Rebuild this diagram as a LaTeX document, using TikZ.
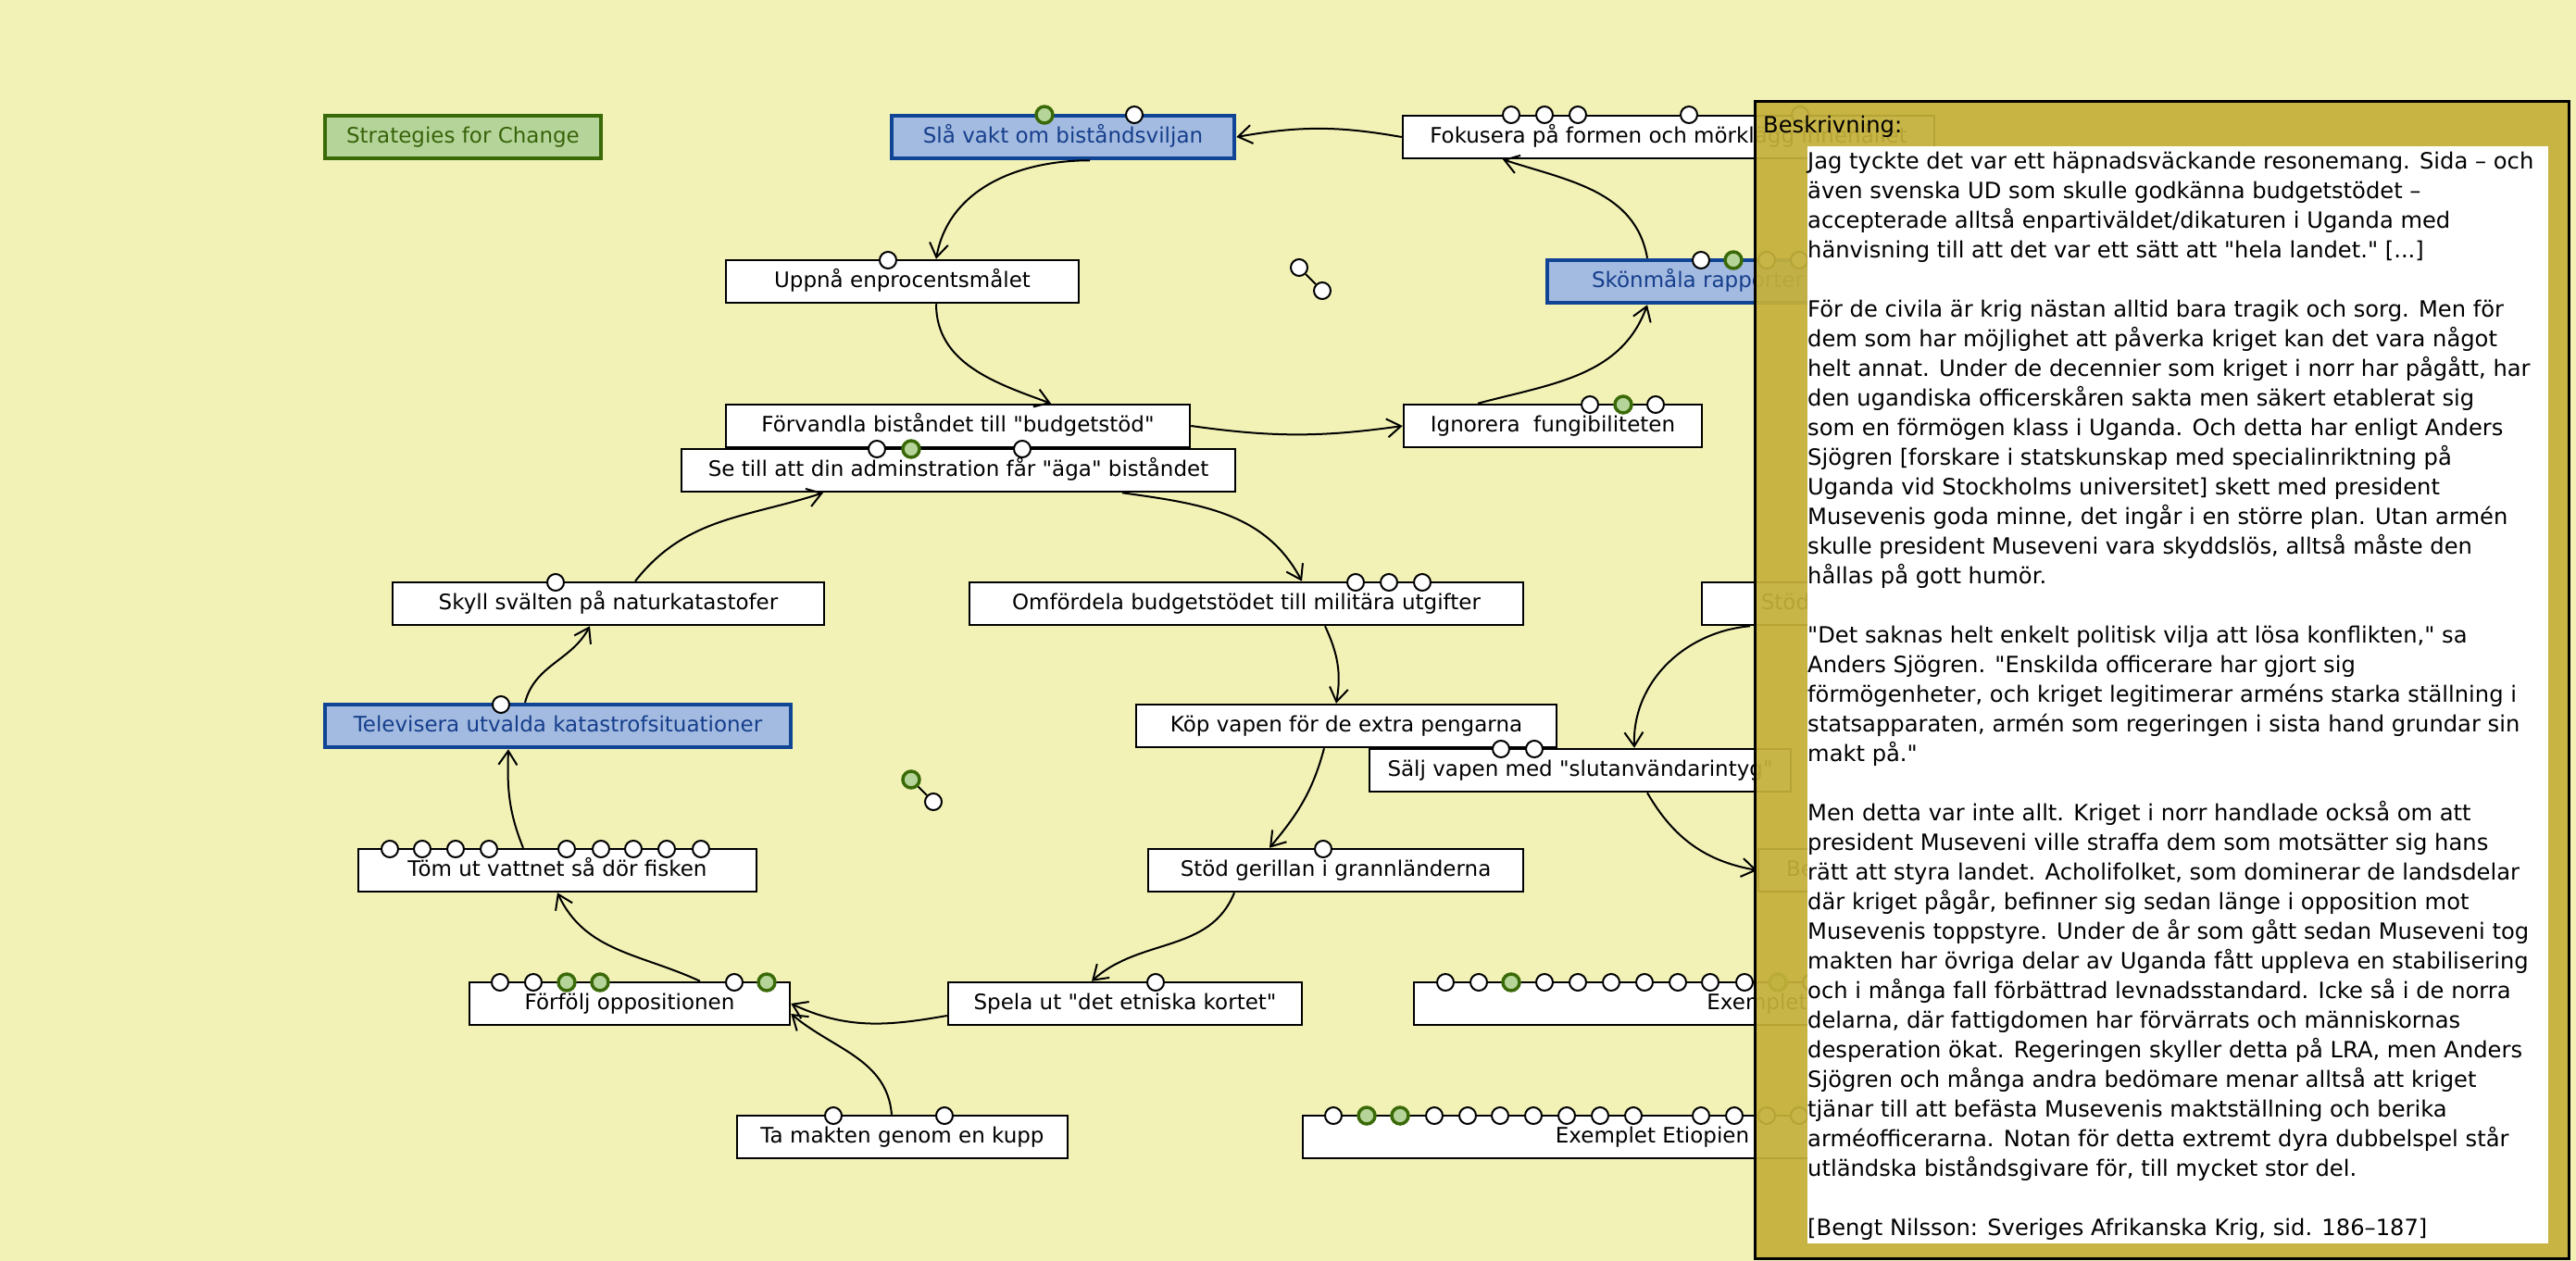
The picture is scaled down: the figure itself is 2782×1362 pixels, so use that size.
\documentclass[tikz,border=0pt]{standalone}
\usepackage{fontspec}
\setmainfont{DejaVu Sans}[Ligatures=TeXOff]
\usepackage{xcolor}
\usepackage{tikz}
\usetikzlibrary{arrows.meta}
\definecolor{cBg}{RGB}{242,242,183}
\definecolor{cPanel}{RGB}{196,176,58}
\definecolor{cBlueFill}{RGB}{163,187,224}
\definecolor{cBlueLine}{RGB}{16,68,148}
\definecolor{cBlueText}{RGB}{22,62,140}
\definecolor{cGreenFill}{RGB}{181,212,153}
\definecolor{cGreenLine}{RGB}{58,106,8}
\definecolor{cGreenText}{RGB}{55,100,10}

\begin{document}
\begin{tikzpicture}[x=1pt,y=-1pt,
  box/.style={draw=black,line width=2.5pt,fill=white,inner sep=0pt,minimum height=46pt,
    text height=17pt,text depth=5pt,font=\fontsize{23}{28}\selectfont},
  bluebox/.style={box,draw=cBlueLine,line width=4.5pt,fill=cBlueFill,text=cBlueText},
  greenbox/.style={box,draw=cGreenLine,line width=4.5pt,fill=cGreenFill,text=cGreenText},
  dot/.style={circle,draw=black,line width=2pt,fill=white,minimum size=18pt,inner sep=0pt},
  gdot/.style={dot,draw=cGreenLine,fill=cGreenFill,line width=3.5pt},
  link/.style={-{Straight Barb[length=15pt,width=20pt]},line width=2pt}]
\useasboundingbox (0,0) rectangle (2782,1362);
\fill[cBg] (0,0) rectangle (2782,1362);

% boxes
\node[greenbox,minimum width=298pt] (bStrat) at (500,148) {Strategies for Change};
\node[bluebox,minimum width=370pt] (bSla) at (1148,148) {Slå vakt om biståndsviljan};
\node[box,minimum width=574pt] (bFok) at (1802,148) {Fokusera på formen och mörklägg innehållet};
\node[box,minimum width=381pt] (bUpp) at (974.5,304) {Uppnå enprocentsmålet};
\node[bluebox,minimum width=325pt] (bSkon) at (1833.5,304) {Skönmåla rapporter};
\node[box,minimum width=501pt] (bForv) at (1034.5,460) {Förvandla biståndet till "budgetstöd"};
\node[box,minimum width=322pt] (bIgn) at (1677,460) {Ignorera~~fungibiliteten};
\node[box,minimum width=598pt] (bSe) at (1035,508) {Se till att din adminstration får "äga" biståndet};
\node[box,minimum width=466pt] (bSkyll) at (657,652) {Skyll svälten på naturkatastofer};
\node[box,minimum width=598pt] (bOmf) at (1346,652) {Omfördela budgetstödet till militära utgifter};
\node[box,minimum width=180pt] (bStodX) at (1928,652) {Stöd};
\node[bluebox,minimum width=503pt] (bTel) at (602.5,784) {Televisera utvalda katastrofsituationer};
\node[box,minimum width=454pt] (bKop) at (1454,784) {Köp vapen för de extra pengarna};
\node[box,minimum width=455pt] (bSalj) at (1706.5,832) {Sälj vapen med "slutanvändarintyg"};
\node[box,minimum width=430pt] (bTom) at (602,940) {Töm ut vattnet så dör fisken};
\node[box,minimum width=405pt] (bStodG) at (1442.5,940) {Stöd gerillan i grannländerna};
\node[box,minimum width=90pt] (bBe) at (1944,940) {Be};
\node[box,minimum width=346pt] (bForf) at (680,1084) {Förfölj oppositionen};
\node[box,minimum width=382pt] (bSpela) at (1215,1084) {Spela ut "det etniska kortet"};
\node[box,minimum width=741pt] (bExA) at (1897.5,1084) {Exemplet};
\node[box,minimum width=357pt] (bTa) at (974.5,1228) {Ta makten genom en kupp};
\node[box,minimum width=755pt] (bExE) at (1784.5,1228) {Exemplet Etiopien};

% markers on the boxes
\node[gdot] (dSla1) at (1128,124) {};
\node[dot] (dSla2) at (1225,124) {};
\node[dot] (dFok1) at (1632,124) {};
\node[dot] (dFok2) at (1668,124) {};
\node[dot] (dFok3) at (1704,124) {};
\node[dot] (dFok4) at (1824,124) {};
\node[dot] (dFok5) at (1944,124) {};
\node[dot] (dUpp1) at (959,281) {};
\node[dot] (dSkon1) at (1837,281) {};
\node[gdot] (dSkon2) at (1872,281) {};
\node[dot] (dSkon3) at (1908,281) {};
\node[dot] (dSkon4) at (1943,281) {};
\node[dot] (dIgn1) at (1717,437) {};
\node[gdot] (dIgn2) at (1753,437) {};
\node[dot] (dIgn3) at (1788,437) {};
\node[dot] (dSe1) at (947,485) {};
\node[gdot] (dSe2) at (984,485) {};
\node[dot] (dSe3) at (1104,485) {};
\node[dot] (dSkyll1) at (600,629) {};
\node[dot] (dOmf1) at (1464,629) {};
\node[dot] (dOmf2) at (1500,629) {};
\node[dot] (dOmf3) at (1536,629) {};
\node[dot] (dTel1) at (541,761) {};
\node[dot] (dSalj1) at (1621,809) {};
\node[dot] (dSalj2) at (1657,809) {};
\node[dot] (dTom1) at (421,917) {};
\node[dot] (dTom2) at (456,917) {};
\node[dot] (dTom3) at (492,917) {};
\node[dot] (dTom4) at (528,917) {};
\node[dot] (dTom5) at (612,917) {};
\node[dot] (dTom6) at (649,917) {};
\node[dot] (dTom7) at (684,917) {};
\node[dot] (dTom8) at (720,917) {};
\node[dot] (dTom9) at (757,917) {};
\node[dot] (dStodG1) at (1429,917) {};
\node[dot] (dForf1) at (540,1061) {};
\node[dot] (dForf2) at (576,1061) {};
\node[gdot] (dForf3) at (612,1061) {};
\node[gdot] (dForf4) at (648,1061) {};
\node[dot] (dForf5) at (793,1061) {};
\node[gdot] (dForf6) at (828,1061) {};
\node[dot] (dSpela1) at (1248,1061) {};
\node[dot] (dExA1) at (1561,1061) {};
\node[dot] (dExA2) at (1597,1061) {};
\node[gdot] (dExA3) at (1632,1061) {};
\node[dot] (dExA4) at (1668,1061) {};
\node[dot] (dExA5) at (1704,1061) {};
\node[dot] (dExA6) at (1740,1061) {};
\node[dot] (dExA7) at (1776,1061) {};
\node[dot] (dExA8) at (1812,1061) {};
\node[dot] (dExA9) at (1847,1061) {};
\node[dot] (dExA10) at (1884,1061) {};
\node[gdot] (dExA11) at (1920,1061) {};
\node[dot] (dExA12) at (1956,1061) {};
\node[dot] (dTa1) at (900,1205) {};
\node[dot] (dTa2) at (1020,1205) {};
\node[dot] (dExE1) at (1440,1205) {};
\node[gdot] (dExE2) at (1476,1205) {};
\node[gdot] (dExE3) at (1512,1205) {};
\node[dot] (dExE4) at (1549,1205) {};
\node[dot] (dExE5) at (1585,1205) {};
\node[dot] (dExE6) at (1620,1205) {};
\node[dot] (dExE7) at (1656,1205) {};
\node[dot] (dExE8) at (1692,1205) {};
\node[dot] (dExE9) at (1728,1205) {};
\node[dot] (dExE10) at (1764,1205) {};
\node[dot] (dExE11) at (1837,1205) {};
\node[dot] (dExE12) at (1873,1205) {};
\node[dot] (dExE13) at (1908,1205) {};
\node[dot] (dExE14) at (1943,1205) {};

% loose marker pairs
\node[dot] (dFreeA) at (1403,289) {};
\node[dot] (dFreeB) at (1428,314) {};
\draw[line width=2pt] (dFreeA) -- (dFreeB);
\node[gdot] (dFreeC) at (984,842) {};
\node[dot] (dFreeD) at (1008,866) {};
\draw[line width=2pt] (dFreeC) -- (dFreeD);

% links
\draw[link] (bFok.west) to[out=170,in=10] (bSla.east);
\draw[link] ([xshift=29pt]bSla.south) to[out=180,in=80] ([xshift=36.5pt]bUpp.north);
\draw[link] ([xshift=36.5pt]bUpp.south) to[out=-90,in=160] ([xshift=100.5pt]bForv.north);
\draw[link] (bForv.east) to[out=-8,in=-172] (bIgn.west);
\draw[link] ([xshift=-81pt]bIgn.north) to[out=15,in=-110] ([xshift=-54.5pt]bSkon.south);
\draw[link] ([xshift=-54.5pt]bSkon.north) to[out=100,in=-18] ([xshift=-179pt]bFok.south);
\draw[link] ([xshift=177pt]bSe.south) to[out=-8,in=118] ([xshift=60pt]bOmf.north);
\draw[link] ([xshift=29pt]bSkyll.north) to[out=52,in=-162] ([xshift=-146pt]bSe.south);
\draw[link] ([xshift=-35.5pt]bTel.north) to[out=75,in=-118] ([xshift=-20pt]bSkyll.south);
\draw[link] ([xshift=-37pt]bTom.north) to[out=112,in=-92] ([xshift=-53.5pt]bTel.south);
\draw[link] ([xshift=76pt]bForf.north) to[out=155,in=-65] (bTom.south);
\draw[link] ([xshift=85pt]bOmf.south) to[out=-65,in=80] ([xshift=-11pt]bKop.north);
\draw[link] ([xshift=-24pt]bKop.south) to[out=-105,in=50] ([xshift=-71.5pt]bStodG.north);
\draw[link] ([xshift=-109.5pt]bStodG.south) to[out=-112,in=42] ([xshift=-36pt]bSpela.north);
\draw[link] ([yshift=-13pt]bSpela.west) to[out=-170,in=-25] (bForf.east);
\draw[link] ([xshift=-11.5pt]bTa.north) to[out=95,in=-40] ([yshift=-11pt]bForf.east);
\draw[link] ([xshift=-38pt]bStodX.south) to[out=-175,in=92] ([xshift=58.5pt]bSalj.north);
\draw[link] ([xshift=72.5pt]bSalj.south) to[out=-60,in=170] (bBe.west);

% description panel
\node[draw=black,line width=3pt,fill=cPanel,fill opacity=0.93,inner sep=0pt,
  minimum width=879pt,minimum height=1250pt,anchor=north west] (panel) at (1894,108) {};
\node[fill=white,inner sep=0pt,minimum width=800pt,minimum height=1185pt,anchor=north west] (descBg) at (1952,158) {};
\node[anchor=base west,inner sep=0pt,font=\fontsize{24.2}{32}\selectfont] (descHead) at (1904,143) {Beskrivning:};
\node[anchor=north west,inner sep=0pt,align=left,font=\fontsize{24.2}{32}\selectfont] (desc) at (1952,163.6) {%
Jag tyckte det var ett häpnadsväckande resonemang. Sida – och\\
även svenska UD som skulle godkänna budgetstödet –\\
accepterade alltså enpartiväldet/dikaturen i Uganda med\\
hänvisning till att det var ett sätt att "hela landet." {[}...{]}\\[32pt]
För de civila är krig nästan alltid bara tragik och sorg. Men för\\
dem som har möjlighet att påverka kriget kan det vara något\\
helt annat. Under de decennier som kriget i norr har pågått, har\\
den ugandiska officerskåren sakta men säkert etablerat sig\\
som en förmögen klass i Uganda. Och detta har enligt Anders\\
Sjögren {[}forskare i statskunskap med specialinriktning på\\
Uganda vid Stockholms universitet{]} skett med president\\
Musevenis goda minne, det ingår i en större plan. Utan armén\\
skulle president Museveni vara skyddslös, alltså måste den\\
hållas på gott humör.\\[32pt]
"Det saknas helt enkelt politisk vilja att lösa konflikten," sa\\
Anders Sjögren. "Enskilda officerare har gjort sig\\
förmögenheter, och kriget legitimerar arméns starka ställning i\\
statsapparaten, armén som regeringen i sista hand grundar sin\\
makt på."\\[32pt]
Men detta var inte allt. Kriget i norr handlade också om att\\
president Museveni ville straffa dem som motsätter sig hans\\
rätt att styra landet. Acholifolket, som dominerar de landsdelar\\
där kriget pågår, befinner sig sedan länge i opposition mot\\
Musevenis toppstyre. Under de år som gått sedan Museveni tog\\
makten har övriga delar av Uganda fått uppleva en stabilisering\\
och i många fall förbättrad levnadsstandard. Icke så i de norra\\
delarna, där fattigdomen har förvärrats och människornas\\
desperation ökat. Regeringen skyller detta på LRA, men Anders\\
Sjögren och många andra bedömare menar alltså att kriget\\
tjänar till att befästa Musevenis maktställning och berika\\
arméofficerarna. Notan för detta extremt dyra dubbelspel står\\
utländska biståndsgivare för, till mycket stor del.\\[32pt]
{[}Bengt Nilsson: Sveriges Afrikanska Krig, sid. 186–187{]}};
\end{tikzpicture}
\end{document}
